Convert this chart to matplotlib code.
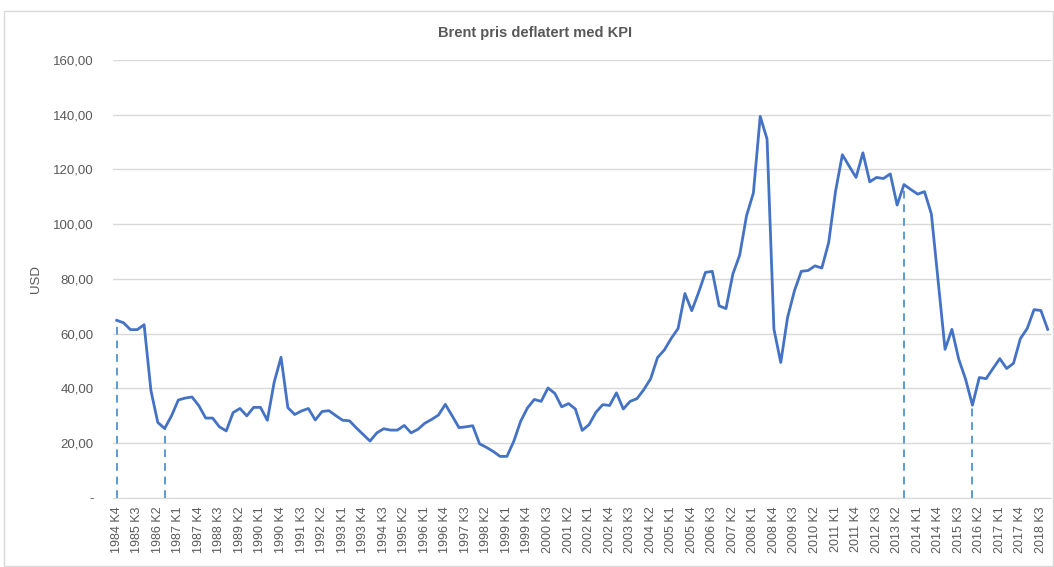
import matplotlib.pyplot as plt
from matplotlib.patches import Rectangle
from matplotlib.ticker import FuncFormatter

plt.rcParams['font.family'] = ['Liberation Sans', 'DejaVu Sans']

# Kvartaler fra 1984 K4 til 2018 K4
start_year, start_q = 1984, 4
n_quarters = 137

# Brent pris deflatert med KPI (USD), lest av figuren
brent_real = [
    64.9, 64.0, 61.5, 61.5, 63.3, 39.2, 27.6, 25.4, 30.0, 35.8,
    36.5, 36.9, 33.7, 29.2, 29.2, 26.0, 24.5, 31.2, 32.7, 30.0,
    33.1, 33.1, 28.4, 42.3, 51.4, 33.0, 30.5, 31.8, 32.7, 28.5,
    31.6, 31.9, 30.1, 28.4, 28.2, 25.6, 23.2, 20.8, 23.8, 25.3,
    24.8, 24.8, 26.5, 23.8, 25.1, 27.3, 28.7, 30.3, 34.2, 30.0,
    25.7, 26.0, 26.4, 19.8, 18.5, 17.0, 15.2, 15.2, 20.7, 28.0,
    32.9, 36.0, 35.3, 40.2, 38.2, 33.3, 34.5, 32.5, 24.7, 26.8,
    31.3, 34.1, 33.8, 38.4, 32.5, 35.3, 36.3, 39.6, 43.6, 51.3,
    54.1, 58.3, 61.9, 74.7, 68.4, 75.1, 82.4, 82.8, 70.2, 69.2,
    81.8, 88.7, 103.1, 111.4, 139.4, 131.1, 61.7, 49.5, 66.0, 75.7,
    82.8, 83.1, 84.8, 84.0, 93.3, 112.0, 125.4, 121.2, 117.1, 126.1,
    115.5, 117.1, 116.7, 118.4, 107.0, 114.5, 112.7, 111.0, 111.9, 103.8,
    79.0, 54.3, 61.6, 50.7, 43.4, 33.9, 44.0, 43.6, 47.3, 50.9,
    47.3, 49.2, 58.2, 61.9, 68.8, 68.5, 61.6,
]

# kvartaler markert med stiplet linje (indeks i serien)
marked = [0, 7, 115, 125]

labels = []
for i in range(n_quarters):
    q = start_q - 1 + i
    labels.append(f"{start_year + q // 4} K{q % 4 + 1}")

grey = '#595959'
fig = plt.figure(figsize=(10.54, 5.67), dpi=100)
ax = fig.add_axes([0.1075, 0.1217, 0.8898, 0.7725])

x = list(range(n_quarters))
for i in marked:
    ax.plot([i, i], [0, brent_real[i]], color='#5B9BD5', lw=1.4,
            linestyle=(0, (4, 3)), zorder=2)
ax.plot(x, brent_real, color='#4472C4', lw=2.0, zorder=3,
        solid_joinstyle='round')

ax.set_xlim(-0.5, n_quarters - 0.5)
ax.set_ylim(0, 160)
ax.set_yticks(range(0, 161, 20))
ax.yaxis.set_major_formatter(FuncFormatter(
    lambda v, p: '-' if v == 0 else f"{v:.2f}".replace('.', ',')))
ax.set_xticks(x[::3])
ax.set_xticklabels(labels[::3], rotation=90)

ax.grid(axis='y', color='#d9d9d9', lw=1)
ax.set_axisbelow(True)
for s in ['top', 'right', 'left']:
    ax.spines[s].set_visible(False)
ax.spines['bottom'].set_color('#d9d9d9')
ax.tick_params(length=0, colors=grey, labelsize=9)
ax.tick_params(axis='y', pad=14, labelsize=9.5)
ax.tick_params(axis='x', pad=6)

ax.set_ylabel('USD', color=grey, fontsize=9.5, labelpad=8)
fig.text(0.508, 0.942, 'Brent pris deflatert med KPI', ha='center', va='center',
         fontsize=10.5, fontweight='bold', color=grey)

fig.patches.append(Rectangle((0.004, 0.002), 0.995, 0.978, transform=fig.transFigure,
                             fill=False, edgecolor='#d9d9d9', lw=1))

fig.savefig('out.png', dpi=100)
